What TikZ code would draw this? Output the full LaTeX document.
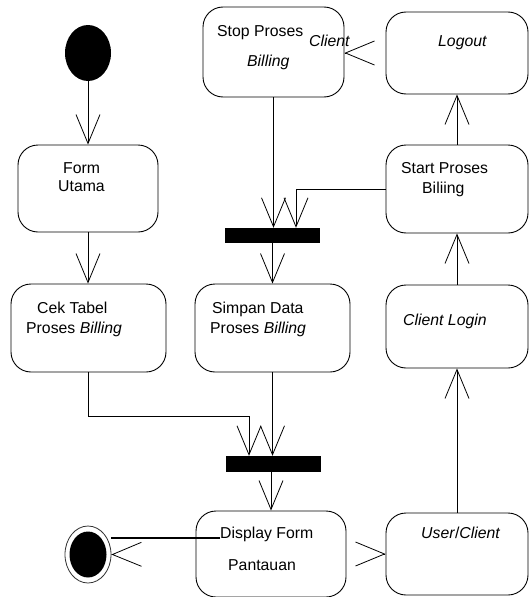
\documentclass[tikz,border=0pt]{standalone}
\usepackage{fontspec}
\setmainfont{Liberation Sans}
\usetikzlibrary{arrows.meta,shapes.geometric}

\tikzset{
  actbox/.style={draw, rounded corners=20pt, line width=0.9pt, inner sep=0pt},
  syncbar/.style={fill=black, inner sep=0pt, minimum width=95, minimum height=15},
  flow/.style={line width=0.8pt, -{Straight Barb[length=29pt,width=24pt,line width=0.8pt]}},
  lbl/.style={anchor=base west, inner sep=0pt, font=\fontsize{15.8}{19}\selectfont},
}

\begin{document}
\begin{tikzpicture}[x=1pt,y=-1pt]
		%%%%% START %%%%%
		\useasboundingbox (0,0) rectangle (529,597);
		
		\node[ellipse, fill=black, minimum width=46, minimum height=56, inner sep=0pt] (init) at (88,53) {};
		
		\node[actbox, minimum width=140, minimum height=87] (formutama) at (88,188.5) {};
		\node[actbox, minimum width=155, minimum height=88] (cektabel) at (88.5,328) {};
		\node[actbox, minimum width=141, minimum height=90] (stopbilling) at (273.5,52) {};
		\node[actbox, minimum width=155, minimum height=88] (simpan) at (272.5,328) {};
		\node[actbox, minimum width=150, minimum height=86] (display) at (271,554) {};
		\node[actbox, minimum width=142, minimum height=82] (logout) at (457,53) {};
		\node[actbox, minimum width=142, minimum height=88] (startbilling) at (457,189) {};
		\node[actbox, minimum width=142, minimum height=83] (clientlogin) at (457,326.5) {};
		\node[actbox, minimum width=142, minimum height=82] (userclient) at (457,554) {};
		
		\node[syncbar] (bar1) at (272.5,235.5) {};
		\node[syncbar, minimum height=16] (bar2) at (273.5,464) {};
		
		\node[ellipse, draw=black!80, line width=0.8pt, minimum width=46, minimum height=57, inner sep=0pt] (final) at (88,554.5) {};
		\fill[black] (final.center) ellipse [x radius=18.5, y radius=23];
		
		% labels
		\node[lbl] (tform) at (63,173) {Form};
		\node[lbl] (tutama) at (58,191) {Utama};
		\node[lbl] (tcek) at (37,313) {Cek Tabel};
		\node[lbl] (tcekb) at (26,333) {Proses \textit{Billing}};
		\node[lbl] (tstop) at (217,36) {Stop Proses};
		\node[lbl] (tstopb) at (247,66) {\textit{Billing}};
		\node[lbl] (tclient) at (309,46) {\textit{Client}};
		\node[lbl] (tsimpan) at (212,313) {Simpan Data};
		\node[lbl] (tsimpanb) at (210,333) {Proses \textit{Billing}};
		\node[lbl] (tdisp) at (220,538) {Display Form};
		\node[lbl] (tdispb) at (228,570) {Pantauan};
		\node[lbl] (tlogout) at (438,46) {\textit{Logout}};
		\node[lbl] (tstart) at (401,173) {Start Proses};
		\node[lbl] (tstartb) at (422,193) {Biliing};
		\node[lbl] (tlogin) at (403,325) {\textit{Client Login}};
		\node[lbl] (tuser) at (421,538) {\textit{User}/\textit{Client}};
		
		% flows
		\draw[flow] (init.south) -- (formutama.north);
		\draw[flow] (formutama.south) -- (formutama.south |- cektabel.north);
		\draw[flow] (cektabel.south) -- ++(0,44) -| ([xshift=-24.5pt]bar2.north);
		\draw[flow] (simpan.south) -- (simpan.south |- bar2.north);
		\draw[flow] (bar2.south -| display.north) -- (display.north);
		\draw[flow] (stopbilling.south) -- (stopbilling.south |- bar1.north);
		\draw[flow] (startbilling.west) -| ([xshift=23.5pt]bar1.north);
		\draw[flow] (bar1.south -| simpan.north) -- (simpan.north);
		\draw[flow] (userclient.north) -- (clientlogin.south);
		\draw[flow] (clientlogin.north) -- (startbilling.south);
		\draw[flow] (startbilling.north) -- (logout.south);
		\draw[flow, shorten <=41pt] (logout.west) -- (logout.west -| stopbilling.east);
		\draw[flow, shorten <=39pt] (display.east) -- (userclient.west);
		\draw[line width=1.8pt] (tdisp.base west) -- (tdisp.base west -| final.east);
		\draw[flow, shorten <=84pt] (display.west) -- (final.east);
		
		%%%%% END %%%%%
\end{tikzpicture}
\end{document}
